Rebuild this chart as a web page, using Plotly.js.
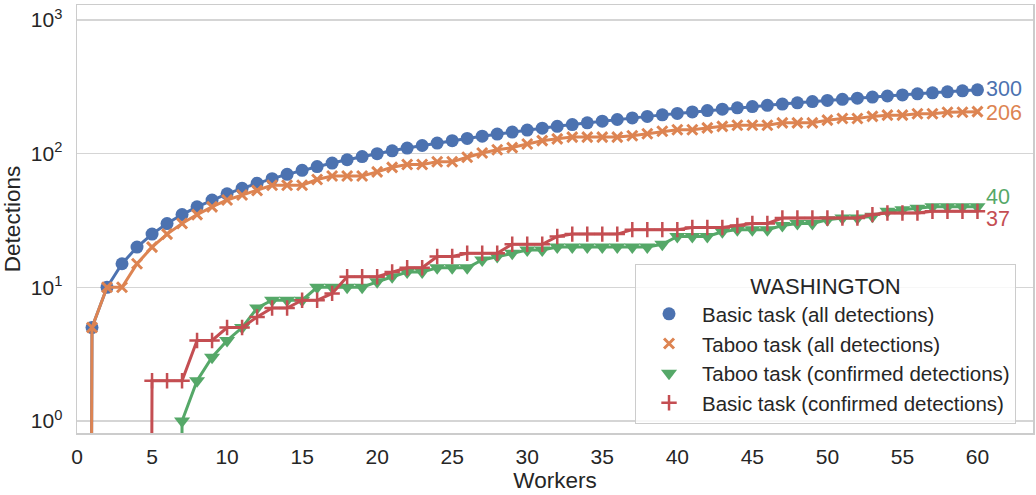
<!DOCTYPE html>
<html>
<head>
<meta charset="utf-8">
<script src="https://cdn.plot.ly/plotly-3.0.1.min.js"></script>
<style>html,body{margin:0;padding:0;background:#fff;}#chart{width:1036px;height:495px;}</style>
</head>
<body>
<div id="chart"></div>
<script>
const workers = [];
for (let i = 0; i <= 60; i++) workers.push(i);

const basicAll = [0, 5, 10, 15, 20, 25, 30, 35, 40, 45, 50, 55, 60, 65, 70, 75, 80, 85, 90, 95, 100,
  105, 110, 115, 120, 125, 130, 135, 140, 145, 150, 155, 160, 165, 170, 175, 180, 185, 190, 195, 200,
  205, 210, 215, 220, 225, 230, 235, 240, 245, 250, 255, 260, 265, 270, 275, 280, 285, 290, 295, 300];

const tabooAll = [0, 5, 10, 10, 15, 20, 25, 30, 35, 40, 45, 49, 53, 58, 58, 58, 64, 68, 68, 68, 73,
  79, 83, 83, 87, 87, 94, 101, 107, 111, 118, 125, 129, 133, 133, 133, 133, 136, 141, 147, 151,
  151, 156, 160, 163, 163, 163, 170, 170, 170, 178, 183, 183, 190, 194, 194, 199, 199, 204, 204, 206];

const tabooConfirmed = [0, 0, 0, 0, 0, 0, 0, 1, 2, 3, 4, 5, 7, 8, 8, 8, 10, 10, 10, 10, 11,
  12, 13, 13, 14, 14, 14, 16, 17, 18, 19, 19, 20, 20, 20, 20, 20, 20, 20, 21, 24,
  24, 24, 26, 27, 27, 27, 29, 30, 30, 32, 33, 33, 34, 37, 38, 39, 40, 40, 40, 40];

const basicConfirmed = [0, 0, 0, 0, 0, 2, 2, 2, 4, 4, 5, 5, 6, 7, 7, 8, 8, 9, 12, 12, 12,
  13, 14, 14, 17, 17, 18, 18, 18, 21, 21, 21, 24, 25, 25, 25, 25, 27, 27, 27, 27,
  28, 28, 28, 29, 30, 30, 33, 33, 33, 33, 33, 33, 35, 36, 36, 36, 37, 37, 37, 37];

const seriesNames = ['Basic task (all detections)', 'Taboo task (all detections)',
  'Taboo task (confirmed detections)', 'Basic task (confirmed detections)'];
const yTickVals = [1, 10, 100, 1000];
const yTickText = ['10<sup>0</sup>', '10<sup>1</sup>', '10<sup>2</sup>', '10<sup>3</sup>'];
const xTickVals = [0, 5, 10, 15, 20, 25, 30, 35, 40, 45, 50, 55, 60];
const legendTitle = 'WASHINGTON';

// zeros cannot be shown on a log axis: clip them far below the axis, like matplotlib does
const clip = arr => arr.map(v => v > 0 ? v : 1e-30);

const colors = ['#4C72B0', '#DD8452', '#55A868', '#C44E52'];
const markerStyles = [
  {symbol: 'circle', size: 13, line: {width: 0}},
  {symbol: 'x-thin', size: 10, line: {width: 3}},
  {symbol: 'triangle-down', size: 14, line: {width: 0}},
  {symbol: 'cross-thin', size: 11, line: {width: 2.5}}
];
const data = [basicAll, tabooAll, tabooConfirmed, basicConfirmed];

const traces = [];
data.forEach((vals, i) => {
  const ms = Object.assign({}, markerStyles[i]);
  ms.color = colors[i];
  ms.line = Object.assign({color: colors[i]}, markerStyles[i].line);
  traces.push({
    x: workers, y: clip(vals), mode: 'lines', type: 'scatter',
    line: {color: colors[i], width: 3}, showlegend: false, legendgroup: 'g' + i,
    hoverinfo: 'skip'
  });
  traces.push({
    x: workers, y: clip(vals), mode: 'markers', type: 'scatter',
    name: seriesNames[i], marker: ms, legendgroup: 'g' + i
  });
});

const labelShift = [1, -1, 10, -8];
const FAM = 'Liberation Sans, Arial, sans-serif';
const annotations = data.map((vals, i) => ({
  x: workers[workers.length - 1], y: Math.log10(vals[vals.length - 1]),
  xref: 'x', yref: 'y', text: String(vals[vals.length - 1]),
  showarrow: false, xanchor: 'left', yanchor: 'middle', xshift: 8, yshift: labelShift[i],
  borderpad: 0,
  font: {family: FAM, size: 21.5, color: colors[i]}
}));

const layout = {
  width: 1036, height: 495,
  margin: {l: 77, r: 3, t: 5, b: 62},
  paper_bgcolor: '#ffffff', plot_bgcolor: '#ffffff',
  font: {family: FAM, size: 21, color: '#262626'},
  showlegend: true,
  xaxis: {
    range: [0, 63.7], tickvals: xTickVals, ticks: '', showgrid: false, zeroline: false,
    showline: true, mirror: true, linecolor: '#cccccc', linewidth: 1.5,
    title: {text: 'Workers', font: {family: FAM, size: 22.5, color: '#262626'}, standoff: 0},
    tickfont: {family: FAM, size: 21, color: '#262626'}, ticklabelstandoff: 4
  },
  yaxis: {
    type: 'log', range: [-0.09, 3.112], tickvals: yTickVals, ticktext: yTickText, ticks: '',
    showgrid: true, gridcolor: '#d5d5d5', gridwidth: 1.3, zeroline: false,
    showline: true, mirror: true, linecolor: '#cccccc', linewidth: 1.5,
    title: {text: 'Detections', font: {family: FAM, size: 22.5, color: '#262626'}, standoff: 4},
    tickfont: {family: FAM, size: 21, color: '#262626'}, ticklabelstandoff: 9
  },
  legend: {
    x: 0.5837, y: 0.02, xanchor: 'left', yanchor: 'bottom',
    bgcolor: 'rgba(255,255,255,0.8)', bordercolor: '#cccccc', borderwidth: 1,
    title: {text: legendTitle, side: 'top center', font: {family: FAM, size: 22, color: '#262626'}},
    font: {family: FAM, size: 20.5, color: '#262626'}, itemwidth: 56, tracegroupgap: 0
  },
  annotations: annotations
};

Plotly.newPlot('chart', traces, layout, {displayModeBar: false, staticPlot: true});
</script>
</body>
</html>
